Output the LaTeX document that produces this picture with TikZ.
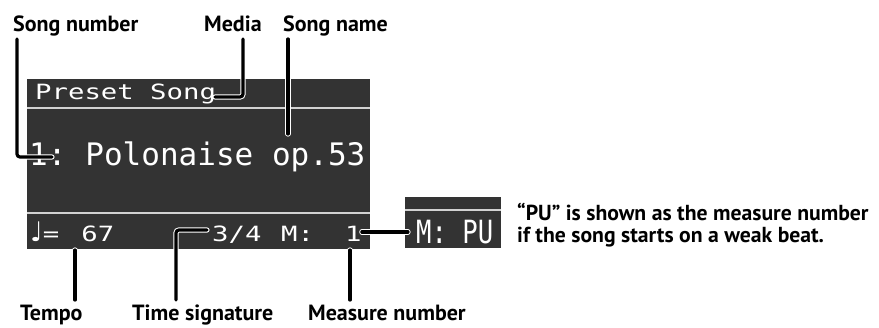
\documentclass[tikz,border=0pt]{standalone}
\usepackage{fontspec}
\setmainfont{PT Sans}
\newfontfamily\lcdfont{DejaVu Sans Mono}
\newfontfamily\lcdwidefont[FakeStretch=1.3]{DejaVu Sans Mono}
\newfontfamily\lcdnarrowfont[FakeStretch=0.8]{DejaVu Sans Mono}
\newfontfamily\notefont{DejaVu Sans}
\usepackage{xcolor}
\definecolor{lcdbg}{HTML}{333333}
\definecolor{lcdrule}{HTML}{D2D2D2}

\begin{document}
\begin{tikzpicture}[
  x=1pt, y=-1pt,
  screen/.style={fill=lcdbg},
  rule/.style={draw=lcdrule, line width=1.6pt},
  lcd/.style={text=white, inner sep=0pt, anchor=base west},
  lbl/.style={font=\bfseries\fontsize{22}{22}\selectfont, inner sep=0pt, anchor=base west},
  callout/.style={draw=white, line width=1pt, double=black, double distance=3.2pt, line cap=round, rounded corners=3pt}
]
\useasboundingbox (0,0) rectangle (879,327);
% main display
\fill[screen] (27,79) rectangle (370,249);
\draw[rule] (27,108) -- (370,108);
\draw[rule] (27,213) -- (370,213);
\node[lcd, font=\lcdwidefont\fontsize{21}{21}\selectfont] (media) at (35,99) {Preset Song};
\node[lcd, font=\lcdfont\fontsize{31}{31}\selectfont] (title) at (29,165) {1:\hspace{-6pt} Polonaise op.53};
\node[lcd, font=\lcdwidefont\fontsize{21}{21}\selectfont] (tempo) at (30,241) {{\notefont\fontsize{27}{27}\selectfont ♩}=\hspace{22pt}67};
\node[lcd, font=\lcdwidefont\fontsize{21}{21}\selectfont] (timesig) at (212,241) {3/4};
\node[lcd, font=\lcdwidefont\fontsize{21}{21}\selectfont] (meas) at (281,241) {M:};
\node[lcd, font=\lcdwidefont\fontsize{21}{21}\selectfont] (measno) at (345,241) {1};
% pick-up display
\fill[screen] (405,197) rectangle (501,248);
\draw[rule] (405,210) -- (501,210);
\node[lcd, font=\lcdnarrowfont\fontsize{32}{32}\selectfont] (pu) at (416,243) {M: PU};
% labels
\node[lbl] (lblnum) at (13,31) {Song number};
\node[lbl] (lblmedia) at (204,31) {Media};
\node[lbl] (lblname) at (283,31) {Song name};
\node[lbl] (lbltempo) at (20,320) {Tempo};
\node[lbl] (lbltime) at (132,320) {Time signature};
\node[lbl] (lblmeas) at (308,320) {Measure number};
\node[lbl, align=left, font=\bfseries\fontsize{21.7}{22}\selectfont] (note) at (517,242) {“PU” is shown as the measure number\\if the song starts on a weak beat.};
% callout ends
\coordinate (numtip) at (52,157);
\coordinate (mediatip) at (215,97);
\coordinate (nametip) at (288,134);
\coordinate (tempotip) at (75,250);
\coordinate (timetip) at (207,230);
\coordinate (meastip) at (350,250);
\coordinate (putip) at (408,232);
\draw[callout] (lblnum.base west) ++(4,8) |- (numtip);
\draw[callout] (lblmedia.base west) ++(39,8) |- (mediatip);
\draw[callout] (lblname.base west) ++(5,8) -- (nametip);
\draw[callout] (lbltempo.base west) ++(55,-20) -- (tempotip);
\draw[callout] (lbltime.base west) ++(44,-20) |- (timetip);
\draw[callout] (lblmeas.base west) ++(42,-20) -- (meastip);
\draw[callout] (measno.east |- putip) -- (putip);
\end{tikzpicture}
\end{document}
